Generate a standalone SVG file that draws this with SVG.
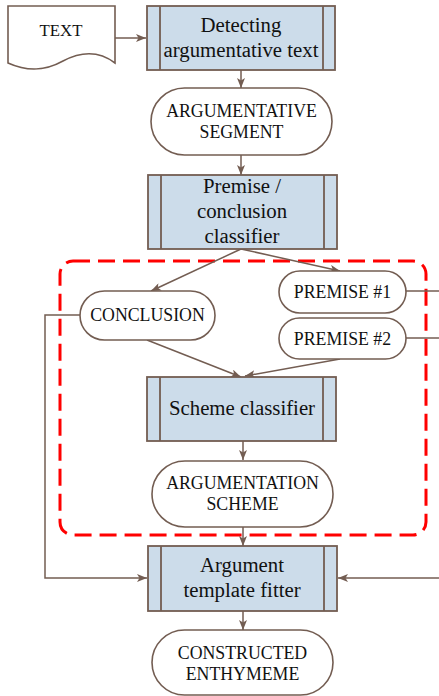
<svg xmlns="http://www.w3.org/2000/svg" width="439" height="696" viewBox="0 0 439 696">
<defs>
<marker id="ah" viewBox="0 0 10 8" refX="10" refY="4" markerWidth="10" markerHeight="8" markerUnits="userSpaceOnUse" orient="auto">
<path d="M0,0 L10,4 L0,8 L2.5,4 Z" fill="#735d52"/>
</marker>
<style>
.proc{fill:#ccdcea;stroke:#735d52;stroke-width:1.8}
.bar{fill:none;stroke:#735d52;stroke-width:1.8}
.term{fill:#fff;stroke:#735d52;stroke-width:1.6}
.edge{fill:none;stroke:#735d52;stroke-width:1.5}
.arr{marker-end:url(#ah)}
.t{font-family:"Liberation Serif","Times New Roman",serif;fill:#111;text-anchor:middle}
.big{font-size:20.8px}
.sm{font-size:17.8px}
</style>
</defs>
<rect x="60" y="261" width="366" height="274" rx="13" fill="none" stroke="#ff0000" stroke-width="3" stroke-dasharray="17,8"/>
<g id="edges">
<path class="edge arr" d="M115,38 H146"/>
<path class="edge arr" d="M241,70 V88"/>
<path class="edge arr" d="M241,155 V175"/>
<path class="edge arr" d="M241,249 L151,291"/>
<path class="edge arr" d="M241,249 L340,271"/>
<path class="edge arr" d="M147,340 L241,377"/>
<path class="edge arr" d="M340,359 L245,376"/>
<path class="edge arr" d="M243,441 V460"/>
<path class="edge arr" d="M243,527 V546"/>
<path class="edge arr" d="M243,611 V630"/>
<path class="edge arr" d="M80,315 H45 V578 H147"/>
<path class="edge" d="M406,291 H439"/>
<path class="edge" d="M406,338 H439"/>
<path class="edge arr" d="M439,578 H338"/>
</g>
<g id="text-doc">
<path class="term" d="M8,6 H115 V63 C98,50 80,52 63,61 C45,71 28,72 8,63 Z"/>
<text class="t" style="font-size:16.8px" x="61" y="36">TEXT</text>
</g>
<g id="detecting">
<rect class="proc" x="147" y="6" width="188" height="64"/>
<path class="bar" d="M160,6 V70 M323,6 V70"/>
<text class="t big" x="241" y="32">Detecting</text>
<text class="t big" x="241" y="57">argumentative text</text>
</g>
<g id="arg-segment">
<rect class="term" x="151" y="88" width="181" height="67" rx="33.5"/>
<text class="t sm" x="241.5" y="117">ARGUMENTATIVE</text>
<text class="t sm" x="241.5" y="138">SEGMENT</text>
</g>
<g id="premise-classifier">
<rect class="proc" x="148" y="175" width="189" height="74"/>
<path class="bar" d="M161,175 V249 M324,175 V249"/>
<text class="t big" x="242" y="193">Premise /</text>
<text class="t big" x="242" y="218">conclusion</text>
<text class="t big" x="242" y="243">classifier</text>
</g>
<g id="conclusion">
<rect class="term" x="80" y="291" width="135" height="49" rx="24.5"/>
<text class="t sm" x="147.5" y="321">CONCLUSION</text>
</g>
<g id="premise1">
<rect class="term" x="279" y="271" width="127" height="42" rx="21"/>
<text class="t sm" x="342.5" y="298">PREMISE #1</text>
</g>
<g id="premise2">
<rect class="term" x="279" y="318" width="127" height="41" rx="20.5"/>
<text class="t sm" x="342.5" y="345">PREMISE #2</text>
</g>
<g id="scheme-classifier">
<rect class="proc" x="147" y="377" width="189" height="64"/>
<path class="bar" d="M160,377 V441 M323,377 V441"/>
<text class="t big" x="242" y="415">Scheme classifier</text>
</g>
<g id="arg-scheme">
<rect class="term" x="152" y="461" width="181" height="66" rx="33"/>
<text class="t sm" x="242.5" y="489">ARGUMENTATION</text>
<text class="t sm" x="242.5" y="510">SCHEME</text>
</g>
<g id="template-fitter">
<rect class="proc" x="148" y="546" width="189" height="65"/>
<path class="bar" d="M161,546 V611 M324,546 V611"/>
<text class="t big" x="242" y="572">Argument</text>
<text class="t big" x="242" y="597">template fitter</text>
</g>
<g id="enthymeme">
<rect class="term" x="152" y="630" width="181" height="65" rx="32.5"/>
<text class="t sm" x="242.5" y="659">CONSTRUCTED</text>
<text class="t sm" x="242.5" y="680">ENTHYMEME</text>
</g>
</svg>
